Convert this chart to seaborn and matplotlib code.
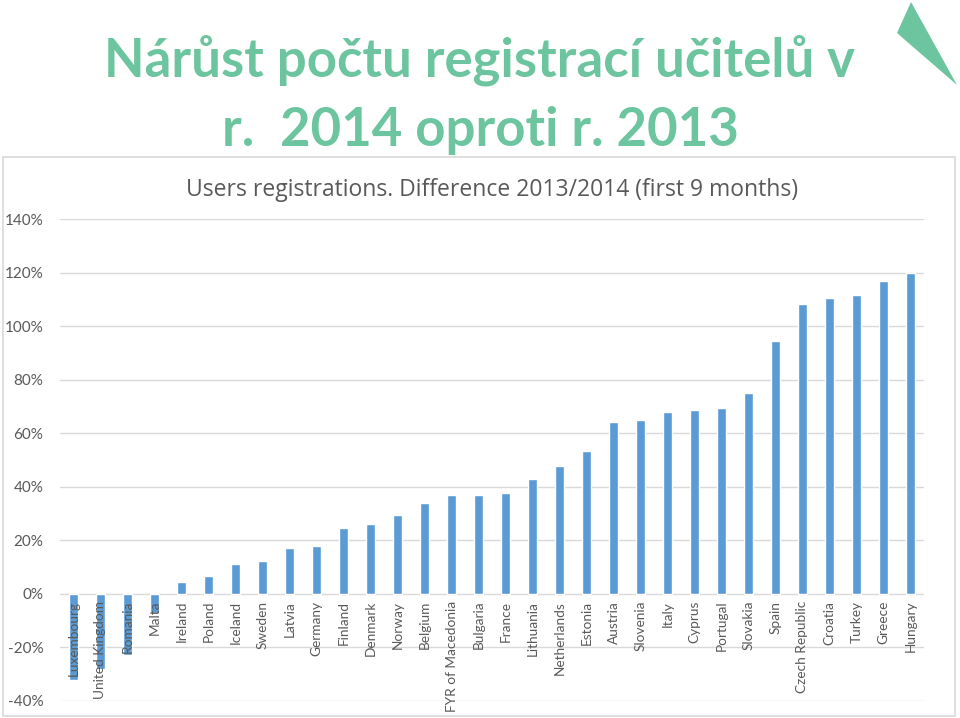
import numpy as np
import pandas as pd
import seaborn as sns
from matplotlib import pyplot as plt
from matplotlib.patches import Polygon, Rectangle
from matplotlib.ticker import FuncFormatter

# values (percent change 2013 -> 2014, first 9 months)
countries = ['Luxembourg', 'United Kingdom', 'Romania', 'Malta', 'Ireland', 'Poland',
             'Iceland', 'Sweden', 'Latvia', 'Germany', 'Finland', 'Denmark', 'Norway',
             'Belgium', 'FYR of Macedonia', 'Bulgaria', 'France', 'Lithuania',
             'Netherlands', 'Estonia', 'Austria', 'Slovenia', 'Italy', 'Cyprus',
             'Portugal', 'Slovakia', 'Spain', 'Czech Republic', 'Croatia', 'Turkey',
             'Greece', 'Hungary']
growth = [-32, -28, -22.8, -7, 4.5, 6.5, 11, 12.3, 17, 18, 24.6, 26, 29.5, 34, 37,
          37, 37.7, 43, 47.8, 53.4, 64.2, 64.9, 67.9, 68.7, 69.4, 75, 94.4, 108.2,
          110.5, 111.6, 116.8, 119.8]
y_ticks = [-40, -20, 0, 20, 40, 60, 80, 100, 120, 140]

title_main = 'Nárůst počtu registrací učitelů v\nr.  2014 oproti r. 2013'
title_chart = 'Users registrations. Difference 2013/2014 (first 9 months)'

df = pd.DataFrame({'country': countries, 'growth': growth})

sns.set_style('white')
plt.rcParams['font.family'] = ['Lato', 'DejaVu Sans']

W, H = 960, 718
fig = plt.figure(figsize=(W / 100, H / 100), dpi=100)

# chart frame
fig.patches.append(Rectangle((3 / W, 1 - 716 / H), 952 / W, 559 / H,
                             transform=fig.transFigure, fill=False,
                             edgecolor='#D9D9D9', linewidth=1.2))

# green triangle decoration top right
fig.patches.append(Polygon([(911 / W, 1 - 2 / H), (897 / W, 1 - 33 / H), (957 / W, 1 - 85 / H)],
                           closed=True, transform=fig.transFigure,
                           facecolor='#6CC59E', edgecolor='none'))

fig.text(0.5, 1 - 95 / H, title_main, ha='center', va='center', fontsize=38,
         fontweight='bold', color='#6CC59E', linespacing=1.5)
fig.text(492 / W, 1 - 190 / H, title_chart, ha='center', va='center',
         fontsize=16.5, color='#595959', family=['Open Sans', 'DejaVu Sans'])

ax = fig.add_axes([60 / W, 1 - 701 / H, 864 / W, 482 / H])
sns.barplot(data=df, x='country', y='growth', color='#5B9BD5', width=0.32,
            saturation=1, ax=ax)

ax.set_xlim(-0.5, len(countries) - 0.5)
ax.set_ylim(-40, 140)
ax.set_yticks(y_ticks)
ax.yaxis.set_major_formatter(FuncFormatter(lambda v, p: f'{v:.0f}%'))
ax.grid(axis='y', color='#D9D9D9', linewidth=1)
ax.set_axisbelow(True)
for s in ax.spines.values():
    s.set_visible(False)
ax.tick_params(axis='y', length=0, pad=12, labelsize=11, labelcolor='#595959')
ax.set_xticks([])
ax.set_xlabel('')
ax.set_ylabel('')

# category labels hang from the zero line, like in Excel
for i, name in enumerate(countries):
    ax.annotate(name, (i, 0), xytext=(0, -5), textcoords='offset points',
                rotation=90, ha='center', va='top', fontsize=9.8, color='#595959')

fig.savefig('out.png', dpi=100)
